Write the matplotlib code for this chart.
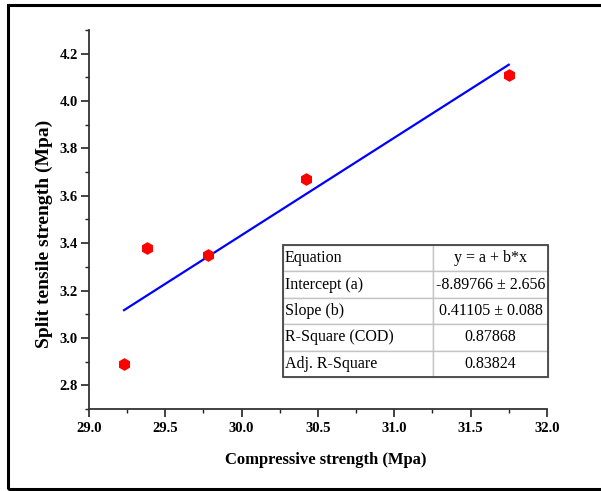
import numpy as np
import matplotlib.pyplot as plt
import matplotlib.patches as patches

# Measured strengths (Mpa)
compressive = [29.23, 29.38, 29.78, 30.42, 31.75]
split_tensile = [2.89, 3.38, 3.35, 3.67, 4.11]

# Linear fit y = a + b*x
intercept = -8.89766
slope = 0.41105

fit_rows = [
    ["Equation", "y = a + b*x"],
    ["Intercept (a)", "-8.89766 \u00b1 2.656"],
    ["Slope (b)", "0.41105 \u00b1 0.088"],
    ["R-Square (COD)", "0.87868"],
    ["Adj. R-Square", "0.83824"],
]

x_ticks = [29.0, 29.5, 30.0, 30.5, 31.0, 31.5, 32.0]
y_ticks = [2.8, 3.0, 3.2, 3.4, 3.6, 3.8, 4.0, 4.2]

plt.rcParams['font.family'] = ['Liberation Serif', 'DejaVu Serif']

fig = plt.figure(figsize=(6.01, 4.91), dpi=100)
ax = fig.add_axes([0.148, 0.167, 0.762, 0.772])

# frame around the whole figure (right edge runs off the canvas)
fig.patches.append(patches.Rectangle((0.0135, 0.004), 1.2, 0.985,
                                     transform=fig.transFigure, fill=False,
                                     edgecolor='black', linewidth=2.2))

ax.plot(compressive, split_tensile, linestyle='none', marker='h',
        markersize=8, color='red', markeredgecolor='red', zorder=3)

fit_x = np.array([min(compressive), max(compressive)])
ax.plot(fit_x, intercept + slope * fit_x, color='blue', linewidth=1.6, zorder=2)

ax.set_xlim(29.0, 32.0)
ax.set_ylim(2.7, 4.3)
ax.set_xticks(x_ticks)
ax.set_yticks(y_ticks)
ax.set_xticks(np.arange(29.25, 32.0, 0.5), minor=True)
ax.set_yticks(np.arange(2.7, 4.31, 0.2), minor=True)
ax.set_xticklabels([f"{v:.1f}" for v in x_ticks], fontweight='bold', fontsize=10.5)
ax.set_yticklabels([f"{v:.1f}" for v in y_ticks], fontweight='bold', fontsize=10.5)
ax.tick_params(which='major', direction='out', length=6, width=1.2, color='#222222')
ax.tick_params(which='minor', direction='out', length=3, width=1.0, color='#222222')
ax.tick_params(axis='y', which='major', pad=2)

for side in ['top', 'right']:
    ax.spines[side].set_visible(False)
for side in ['left', 'bottom']:
    ax.spines[side].set_linewidth(1.3)
    ax.spines[side].set_color('#333333')

ax.set_xlabel("Compressive strength (Mpa)", fontweight='bold', fontsize=12, va='center')
ax.xaxis.set_label_coords(0.516, -0.135)
ax.set_ylabel("Split tensile strength (Mpa)", fontweight='bold', fontsize=14, va='center')
ax.yaxis.set_label_coords(-0.097, 0.462)

# fit statistics table
tbl_box = [0.424, 0.084, 0.579, 0.349]
tbl = ax.table(cellText=fit_rows, cellLoc='center', colWidths=[150, 115],
               bbox=tbl_box)
tbl.auto_set_font_size(False)
for (r, c), cell in tbl.get_celld().items():
    cell.set_edgecolor('#c4c4c4')
    cell.set_linewidth(1.0)
    cell.get_text().set_fontsize(11.5)
    if c == 0:
        cell.get_text().set_ha('left')
        cell.PAD = 0.012
ax.add_patch(patches.Rectangle(tbl_box[:2], tbl_box[2], tbl_box[3], transform=ax.transAxes,
                               fill=False, edgecolor='#444444', linewidth=1.3,
                               zorder=5, clip_on=False))

fig.savefig("out.png", dpi=100)
